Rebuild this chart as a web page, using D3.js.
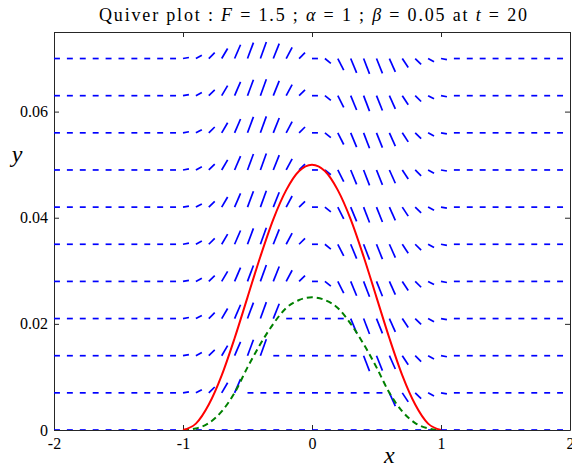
<!DOCTYPE html>
<html>
<head>
<meta charset="utf-8">
<script src="https://cdn.jsdelivr.net/npm/d3@7/dist/d3.min.js"></script>
<style>
  body { margin: 0; background: #fff; }
  svg { display: block; }
  svg text { font-family: "Liberation Serif", "Times New Roman", Times, "DejaVu Serif", "Noto Serif", serif; }
  .tick text { font-size: 16px; fill: #000; }
</style>
</head>
<body>
<svg id="chart" width="572" height="469"></svg>
<script>
// quiver grid columns (x) and rows (y)
const quiverX = [-2.0, -1.9, -1.8, -1.7, -1.6, -1.5, -1.4, -1.3, -1.2, -1.1,
  -1.0, -0.9, -0.8, -0.7, -0.6, -0.5, -0.4, -0.3, -0.2, -0.1,
  0.0, 0.1, 0.2, 0.3, 0.4, 0.5, 0.6, 0.7, 0.8, 0.9,
  1.0, 1.1, 1.2, 1.3, 1.4, 1.5, 1.6, 1.7, 1.8, 1.9, 2.0]
const quiverY = [0, 0.007, 0.014, 0.021, 0.028, 0.035, 0.042, 0.049, 0.056, 0.063, 0.070]

// vector components (same for every row above the dashed curve)
const quiverU = 0.046
const quiverV = [0, 0, 0, 0, 0, 0, 0, 0, 0, 0,
  0.0002, 0.0006, 0.0011, 0.0019, 0.0026, 0.0030, 0.0031, 0.0028, 0.0021, 0.0011,
  0, -0.0009, -0.0022, -0.0027, -0.0029, -0.0028, -0.0025, -0.0017, -0.0011, -0.0006,
  -0.0002, 0, 0, 0, 0, 0, 0, 0, 0, 0, 0]
// half width of the flat (horizontal) zone in each row, -1 = none
const flatSpan = [2.1, 0.55, 0.35, 0.25, -1, -1, -1, -1, -1, -1, -1]

// curves
const curveX = [-1.0, -0.9, -0.8, -0.7, -0.6, -0.5, -0.4, -0.3, -0.2, -0.1, 0.0,
  0.1, 0.2, 0.3, 0.4, 0.5, 0.6, 0.7, 0.8, 0.9, 1.0]
const redY = [0, 0.0012, 0.0048, 0.0103, 0.0173, 0.0250, 0.0327, 0.0397, 0.0452, 0.0488, 0.0500,
  0.0488, 0.0452, 0.0397, 0.0327, 0.0250, 0.0173, 0.0103, 0.0048, 0.0012, 0]
const greenY = [0, 0.0003, 0.0013, 0.0035, 0.0070, 0.0118, 0.0162, 0.0200, 0.0230, 0.0245, 0.0250,
  0.0245, 0.0230, 0.0200, 0.0162, 0.0118, 0.0070, 0.0035, 0.0013, 0.0003, 0]

const xTicks = [-2, -1, 0, 1, 2]
const yTicks = [0, 0.02, 0.04, 0.06]

const margin = {left: 54, top: 32, right: 2, bottom: 39}
const width = 572, height = 469

const svg = d3.select("#chart")

const x = d3.scaleLinear().domain([-2, 2]).range([margin.left, width - margin.right])
const y = d3.scaleLinear().domain([0, 0.075]).range([height - margin.bottom, margin.top])

svg.append("defs").append("clipPath").attr("id", "plot-clip")
  .append("rect")
  .attr("x", x(-2)).attr("y", y(0.075))
  .attr("width", x(2) - x(-2)).attr("height", y(0) - y(0.075))

// axes, ticks pointing inward
const fmt = d => String(d)
const styleAxis = g => {
  g.attr("font-family", null).attr("font-size", null)
  g.select(".domain").attr("stroke", "#262626")
  g.selectAll(".tick line").attr("stroke", "#262626")
}
svg.append("g")
  .attr("transform", `translate(0,${y(0)})`)
  .call(d3.axisBottom(x).tickValues(xTicks).tickFormat(fmt).tickSizeInner(-5).tickSizeOuter(0).tickPadding(8))
  .call(styleAxis)
svg.append("g")
  .attr("transform", `translate(0,${y(0.075)})`)
  .call(d3.axisTop(x).tickValues(xTicks).tickFormat("").tickSizeInner(-5).tickSizeOuter(0))
  .call(styleAxis)
svg.append("g")
  .attr("transform", `translate(${x(-2)},0)`)
  .call(d3.axisLeft(y).tickValues(yTicks).tickFormat(fmt).tickSizeInner(-5).tickSizeOuter(0).tickPadding(6))
  .call(styleAxis)
svg.append("g")
  .attr("transform", `translate(${x(2)},0)`)
  .call(d3.axisRight(y).tickValues(yTicks).tickFormat("").tickSizeInner(-5).tickSizeOuter(0))
  .call(styleAxis)

// quiver segments (no arrow heads)
const arrows = []
quiverY.forEach((yy, j) => {
  quiverX.forEach((xx, i) => {
    let v = Math.abs(xx) < flatSpan[j] ? 0 : quiverV[i]
    arrows.push({x0: xx, y0: yy, x1: xx + quiverU, y1: yy + v})
  })
})

const plot = svg.append("g").attr("clip-path", "url(#plot-clip)")
plot.selectAll("line.arrow")
  .data(arrows)
  .join("line")
  .attr("class", "arrow")
  .attr("x1", d => x(d.x0)).attr("y1", d => y(d.y0))
  .attr("x2", d => x(d.x1)).attr("y2", d => y(d.y1))
  .attr("stroke", "#0000ff")
  .attr("stroke-width", 1.7)

const line = d3.line()
  .x((d, i) => x(curveX[i]))
  .y(d => y(d))
  .curve(d3.curveMonotoneX)

plot.append("path")
  .attr("d", line(greenY))
  .attr("fill", "none")
  .attr("stroke", "#008000")
  .attr("stroke-width", 2)
  .attr("stroke-dasharray", "6,4")

plot.append("path")
  .attr("d", line(redY))
  .attr("fill", "none")
  .attr("stroke", "#ff0000")
  .attr("stroke-width", 2)

// title
const title = svg.append("text")
  .attr("x", 313).attr("y", 21)
  .attr("text-anchor", "middle")
  .attr("textLength", 428)
  .attr("lengthAdjust", "spacing")
  .style("font-size", "18px")
const parts = [
  ["Quiver plot : ", false], ["F", true], [" = 1.5 ; ", false], ["α", true],
  [" = 1 ; ", false], ["β", true], [" = 0.05 at ", false], ["t", true], [" = 20", false]
]
parts.forEach(([txt, it]) => {
  title.append("tspan").text(txt).style("font-style", it ? "italic" : "normal")
})

// axis labels
svg.append("text")
  .attr("x", x(0.6)).attr("y", 463)
  .attr("text-anchor", "middle")
  .style("font-style", "italic").style("font-size", "24px")
  .text("x")
svg.append("text")
  .attr("x", 17).attr("y", y(0.0505))
  .attr("text-anchor", "middle")
  .style("font-style", "italic").style("font-size", "24px")
  .text("y")
</script>
</body>
</html>
